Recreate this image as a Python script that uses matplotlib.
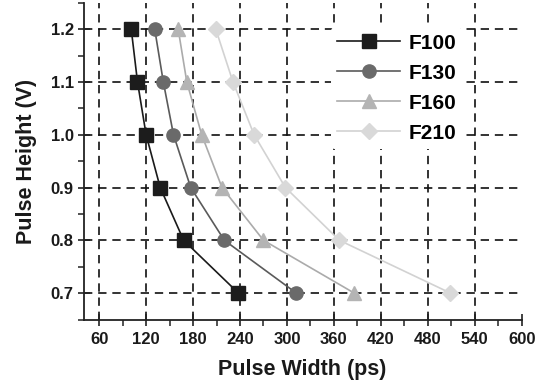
import matplotlib
matplotlib.use("Agg")
import matplotlib.pyplot as plt
from matplotlib.ticker import MultipleLocator

plt.rcParams['font.family'] = ['Liberation Sans', 'DejaVu Sans']

heights = [1.2, 1.1, 1.0, 0.9, 0.8, 0.7]
series_names = ["F100", "F130", "F160", "F210"]
f100 = [101, 109, 120, 138, 168, 238]
f130 = [131, 142, 155, 177, 220, 312]
f160 = [161, 172, 191, 217, 270, 386]
f210 = [209, 231, 258, 298, 367, 509]
x_ticks = [60, 120, 180, 240, 300, 360, 420, 480, 540, 600]
y_ticks = [0.7, 0.8, 0.9, 1.0, 1.1, 1.2]

styles = [
    dict(marker='s', color='#1a1a1a', mfc='#1c1c1c', ms=9.5),
    dict(marker='o', color='#5a5a5a', mfc='#6a6a6a', ms=9.5),
    dict(marker='^', color='#ababab', mfc='#b4b4b4', ms=10.5),
    dict(marker='D', color='#d2d2d2', mfc='#d9d9d9', ms=8.5),
]

fig = plt.figure(figsize=(5.37, 3.83), dpi=100)
ax = fig.add_axes([83.5/537, 1 - 319.5/383, (521.7 - 83.5)/537, (319.5 - 2.7)/383])

for name, xs, st in zip(series_names, [f100, f130, f160, f210], styles):
    ax.plot(xs, heights, label=name, lw=1.2, marker=st['marker'], color=st['color'],
            mfc=st['mfc'], mec=st['mfc'], ms=st['ms'], zorder=3)

ax.set_xlim(40, 600)
ax.set_ylim(0.65, 1.25)
ax.set_xticks(x_ticks)
ax.set_yticks(y_ticks)
ax.set_yticklabels([f"{v:.1f}" for v in y_ticks])
ax.xaxis.set_minor_locator(MultipleLocator(30))
ax.yaxis.set_minor_locator(MultipleLocator(0.05))

for v in x_ticks[:-1]:
    ax.axvline(v, color='#111111', lw=1.2, ls=(0, (5, 3.5)), zorder=1)
for v in y_ticks:
    ax.axhline(v, color='#111111', lw=1.2, ls=(0, (5, 3.5)), zorder=1)

for s in ['top', 'right']:
    ax.spines[s].set_visible(False)
for s in ['left', 'bottom']:
    ax.spines[s].set_linewidth(1.3)
    ax.spines[s].set_color('#222222')

ax.tick_params(which='major', direction='inout', length=8, width=1.2, color='#222222',
               labelsize=12, pad=3)
ax.tick_params(axis='x', which='major', pad=5)
ax.tick_params(which='minor', direction='out', length=4, width=1.1, color='#222222')
for lbl in ax.get_xticklabels() + ax.get_yticklabels():
    lbl.set_fontweight('bold')
    lbl.set_color('#1a1a1a')

ax.set_xlabel("Pulse Width (ps)", fontsize=15.5, fontweight='bold', color='#1a1a1a', labelpad=9)
ax.set_ylabel("Pulse Height (V)", fontsize=15.5, fontweight='bold', color='#1a1a1a', labelpad=10)

leg = ax.legend(loc='upper left', bbox_to_anchor=(0.565, 0.922), frameon=True,
                facecolor='white', edgecolor='none', framealpha=1.0,
                prop={'weight': 'bold', 'size': 15}, handlelength=3.0,
                handletextpad=0.4, labelspacing=0.53, borderpad=0.3, borderaxespad=0)
leg.set_zorder(5)

fig.savefig("out.png", dpi=100)
